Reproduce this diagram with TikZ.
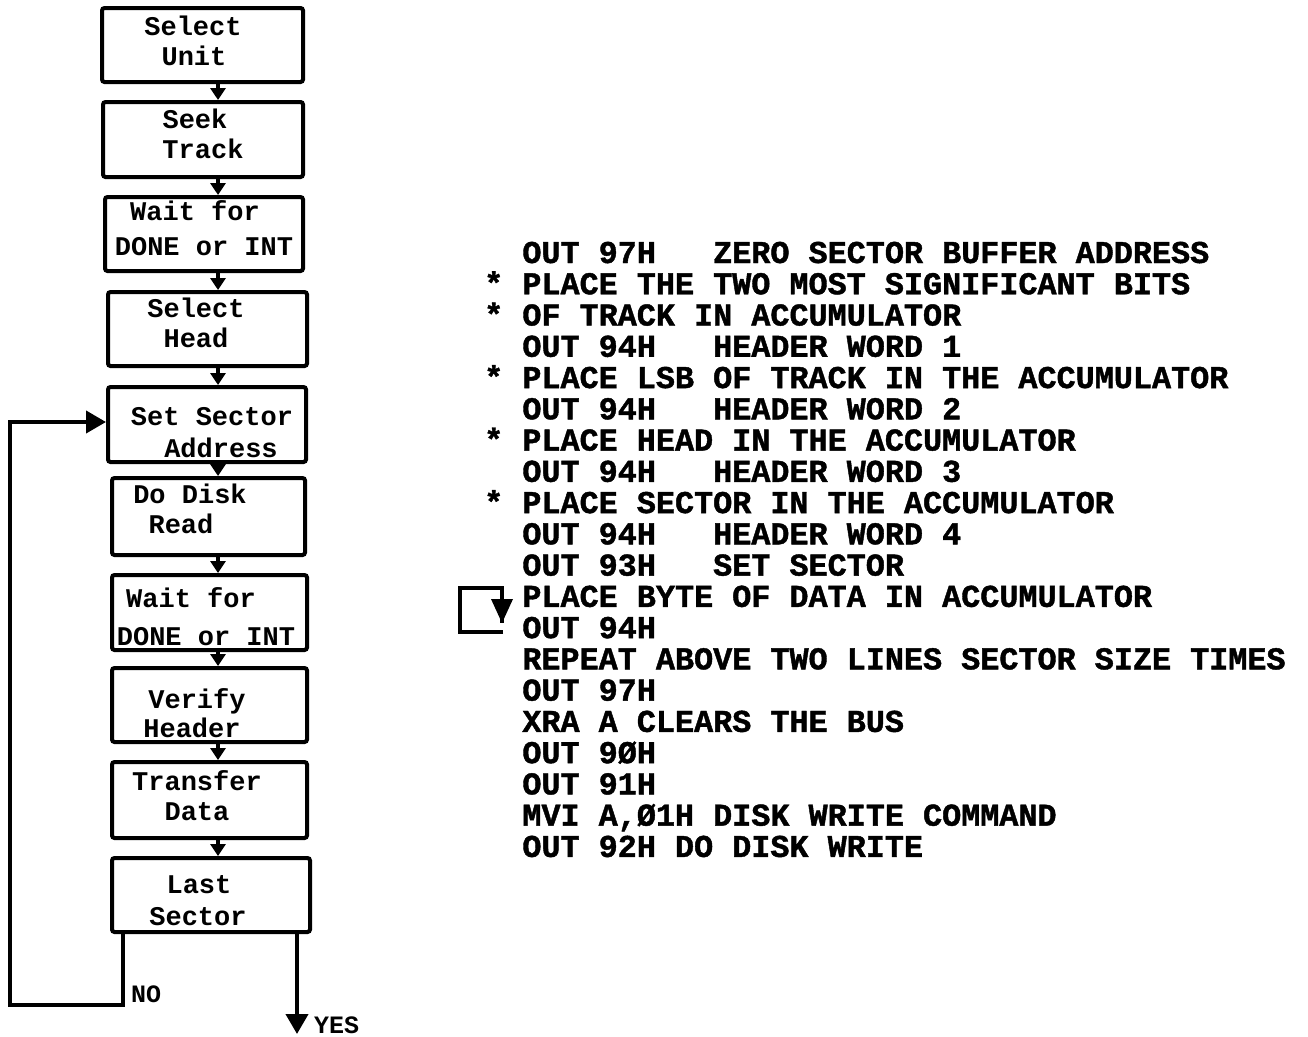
\documentclass[tikz,border=0pt]{standalone}
\usepackage{fontspec}
\setmonofont{Liberation Mono}
\newfontfamily\boxfont{Liberation Mono}
\newfontfamily\codefont{Liberation Mono}[BoldFeatures={FakeBold=1.3}]
\usetikzlibrary{arrows.meta}
\tikzset{
  box/.style={draw, line width=4pt, rounded corners=2.5pt, inner sep=0pt},
  lbl/.style={anchor=base, inner sep=0pt, font=\fontsize{27}{28}\selectfont\boxfont\bfseries},
  code/.style={anchor=base west, inner sep=0pt, font=\fontsize{31.8}{33}\selectfont\codefont\bfseries},
  flow/.style={line width=3.8pt, -{Triangle[width=15pt,length=12pt]}},
  bigflow/.style={line width=4pt, -{Triangle[width=22pt,length=20pt]}},
}
\begin{document}
\begin{tikzpicture}[x=1pt,y=-1pt]
\useasboundingbox (0,0) rectangle (1308,1036);
% boxes
\node[box, minimum width=201pt, minimum height=74pt] (b1) at (202.5,45) {};
\node[box, minimum width=200pt, minimum height=75pt] (b2) at (203,139.5) {};
\node[box, minimum width=198pt, minimum height=74pt] (b3) at (204,234) {};
\node[box, minimum width=199pt, minimum height=74pt] (b4) at (207.5,329) {};
\node[box, minimum width=198pt, minimum height=75pt] (b5) at (207,424.5) {};
\node[box, minimum width=193pt, minimum height=77pt] (b6) at (208.5,516.5) {};
\node[box, minimum width=195pt, minimum height=75pt] (b7) at (209.5,612.5) {};
\node[box, minimum width=195pt, minimum height=74pt] (b8) at (209.5,705) {};
\node[box, minimum width=195pt, minimum height=76pt] (b9) at (209.5,800) {};
\node[box, minimum width=198pt, minimum height=74pt] (b10) at (211,895) {};
% box texts
\node[lbl] (t1a) at (193,35) {Select};
\node[lbl] (t1b) at (194,65) {Unit};
\node[lbl] (t2a) at (195,128) {Seek};
\node[lbl] (t2b) at (203,158) {Track};
\node[lbl] (t3a) at (195,220) {Wait for};
\node[lbl] (t3b) at (204,255) {DONE or INT};
\node[lbl] (t4a) at (196,317) {Select};
\node[lbl] (t4b) at (196,347) {Head};
\node[lbl] (t5a) at (212,425) {Set Sector};
\node[lbl] (t5b) at (221,457) {Address};
\node[lbl] (t6a) at (190,503) {Do Disk};
\node[lbl] (t6b) at (181,533) {Read};
\node[lbl] (t7a) at (191,607) {Wait for};
\node[lbl] (t7b) at (206,645) {DONE or INT};
\node[lbl] (t8a) at (197,708) {Verify};
\node[lbl] (t8b) at (192,737) {Header};
\node[lbl] (t9a) at (197,790) {Transfer};
\node[lbl] (t9b) at (197,820) {Data};
\node[lbl] (t10a) at (199,893) {Last};
\node[lbl] (t10b) at (198,925) {Sector};
% connectors between boxes
\coordinate (ax) at (218,0);
\draw[flow] (b1.south -| ax) -- (b2.north -| ax);
\draw[flow] (b2.south -| ax) -- (b3.north -| ax);
\draw[flow] (b3.south -| ax) -- (b4.north -| ax);
\draw[flow] (b4.south -| ax) -- (b5.north -| ax);
\draw[flow] (b5.south -| ax) -- (b6.north -| ax);
\draw[flow] (b6.south -| ax) -- (b7.north -| ax);
\draw[flow] (b7.south -| ax) -- (b8.north -| ax);
\draw[flow] (b8.south -| ax) -- (b9.north -| ax);
\draw[flow] (b9.south -| ax) -- (b10.north -| ax);
% NO loop
\coordinate (nx) at (123,0);
\coordinate (lb) at (10,1005);
\coordinate (lt) at (10,422);
\draw[bigflow, line join=miter] (b10.south -| nx) |- (lb) -- (lt) -- (lt -| b5.west);
\node[lbl, anchor=base west, font=\fontsize{25}{26}\selectfont\boxfont\bfseries] (no) at (131,1002) {NO};
% YES exit
\coordinate (yx) at (297,0);
\coordinate (yend) at (297,1034);
\draw[bigflow] (b10.south -| yx) -- (yend);
\node[lbl, anchor=base west, font=\fontsize{25}{26}\selectfont\boxfont\bfseries] (yes) at (314,1033) {YES};
% code listing
\node[code] (c1) at (484,263) {\ \ OUT 97H\ \ \ ZERO SECTOR BUFFER ADDRESS};
\node[code] (c2) at (484,294.26) {*\ PLACE THE TWO MOST SIGNIFICANT BITS};
\node[code] (c3) at (484,325.52) {*\ OF TRACK IN ACCUMULATOR};
\node[code] (c4) at (484,356.78) {\ \ OUT 94H\ \ \ HEADER WORD 1};
\node[code] (c5) at (484,388.04) {*\ PLACE LSB OF TRACK IN THE ACCUMULATOR};
\node[code] (c6) at (484,419.3) {\ \ OUT 94H\ \ \ HEADER WORD 2};
\node[code] (c7) at (484,450.56) {*\ PLACE HEAD IN THE ACCUMULATOR};
\node[code] (c8) at (484,481.82) {\ \ OUT 94H\ \ \ HEADER WORD 3};
\node[code] (c9) at (484,513.08) {*\ PLACE SECTOR IN THE ACCUMULATOR};
\node[code] (c10) at (484,544.34) {\ \ OUT 94H\ \ \ HEADER WORD 4};
\node[code] (c11) at (484,575.6) {\ \ OUT 93H\ \ \ SET SECTOR};
\node[code] (c12) at (484,606.86) {\ \ PLACE BYTE OF DATA IN ACCUMULATOR};
\node[code] (c13) at (484,638.12) {\ \ OUT 94H};
\node[code] (c14) at (484,669.38) {\ \ REPEAT ABOVE TWO LINES SECTOR SIZE TIMES};
\node[code] (c15) at (484,700.64) {\ \ OUT 97H};
\node[code] (c16) at (484,731.9) {\ \ XRA A CLEARS THE BUS};
\node[code] (c17) at (484,763.16) {\ \ OUT 9ØH};
\node[code] (c18) at (484,794.42) {\ \ OUT 91H};
\node[code] (c19) at (484,825.68) {\ \ MVI A,Ø1H DISK WRITE COMMAND};
\node[code] (c20) at (484,856.94) {\ \ OUT 92H DO DISK WRITE};
% repeat bracket
\coordinate (rbr) at (503,632);
\coordinate (rbl) at (460,632);
\coordinate (rtl) at (460,588);
\coordinate (rtr) at (502,588);
\coordinate (rtip) at (502,623);
\draw[line width=4pt, line join=miter] (rbr) -- (rbl) -- (rtl) -- (rtr) -- (rtip);
\fill (rtip) -- ++(-11,-24) -- ++(22,0) -- cycle;
\end{tikzpicture}
\end{document}
